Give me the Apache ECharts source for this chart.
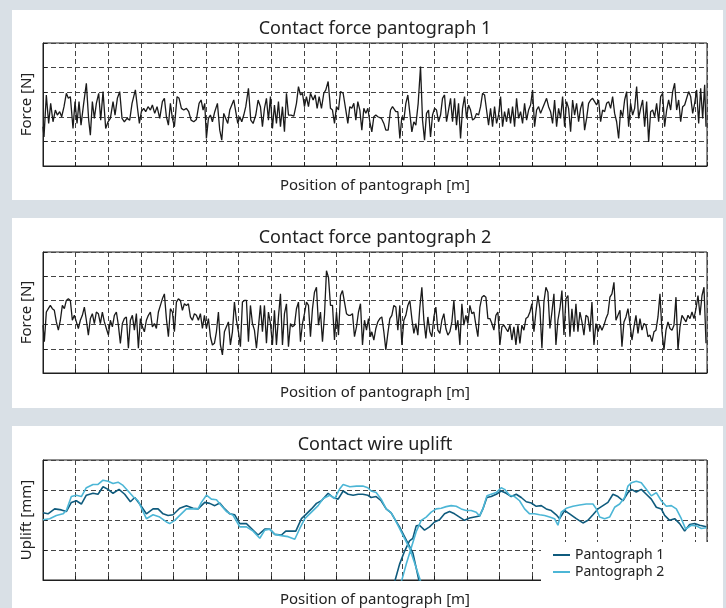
<!DOCTYPE html>
<html>
<head>
<meta charset="utf-8">
<script src="https://cdn.jsdelivr.net/npm/echarts@6/dist/echarts.min.js"></script>
<style>
html,body{margin:0;padding:0;background:#d9e0e6;}
#c{width:726px;height:608px;}
</style>
</head>
<body>
<div id="c"></div>
<script>
// Position [m] along track, value pairs [position, value]
const force1 = [[0,117],[3,87],[10,212],[17,127],[23,187],[30,132],[37,167],[43,152],[50,162],[56,147],[63,177],[70,217],[76,202],[82,207],[90,112],[96,192],[102,127],[108,192],[114,122],[122,187],[130,247],[137,137],[142,92],[148,192],[154,142],[160,187],[167,217],[173,137],[180,222],[188,112],[195,132],[202,142],[210,192],[216,152],[223,202],[230,222],[237,142],[244,132],[252,142],[260,137],[267,187],[277,227],[284,167],[289,127],[295,162],[302,172],[308,162],[315,177],[322,167],[328,182],[335,157],[342,177],[350,142],[358,192],[364,202],[370,147],[376,122],[382,187],[388,142],[394,117],[402,207],[408,202],[415,172],[422,167],[430,172],[437,162],[444,137],[452,132],[460,139],[468,187],[474,197],[480,167],[485,187],[490,82],[496,142],[502,152],[508,132],[515,162],[523,187],[530,107],[536,77],[542,157],[548,142],[554,127],[560,167],[566,182],[572,197],[578,162],[584,127],[590,147],[596,132],[602,152],[608,177],[616,232],[623,137],[630,127],[638,152],[645,197],[652,177],[658,117],[664,172],[670,202],[676,137],[682,207],[688,112],[694,182],[700,127],[706,192],[712,117],[718,177],[724,102],[730,217],[736,152],[744,152],[752,149],[760,187],[766,237],[772,212],[778,217],[784,177],[790,207],[796,177],[802,217],[810,197],[816,212],[822,172],[828,207],[835,172],[842,217],[848,227],[855,252],[862,172],[868,167],[874,127],[880,177],[886,167],[892,222],[900,217],[908,167],[914,127],[920,177],[926,172],[932,187],[938,137],[944,192],[950,167],[956,107],[962,172],[968,157],[974,172],[980,132],[986,102],[992,147],[998,152],[1004,147],[1015,142],[1022,127],[1028,107],[1035,107],[1042,167],[1048,177],[1053,182],[1058,162],[1064,162],[1070,82],[1076,147],[1082,137],[1088,187],[1094,212],[1100,157],[1106,102],[1112,132],[1118,122],[1125,187],[1132,297],[1138,137],[1144,77],[1150,157],[1156,167],[1162,87],[1168,152],[1174,172],[1180,167],[1186,132],[1192,152],[1198,202],[1204,212],[1210,132],[1216,167],[1222,202],[1228,132],[1234,202],[1240,122],[1246,187],[1252,82],[1258,172],[1264,207],[1270,142],[1276,182],[1282,167],[1288,137],[1294,142],[1300,157],[1306,152],[1312,177],[1318,217],[1324,212],[1330,167],[1336,122],[1342,172],[1348,117],[1354,177],[1360,127],[1366,152],[1372,207],[1378,117],[1384,162],[1390,132],[1396,172],[1402,127],[1408,177],[1414,117],[1420,202],[1426,142],[1432,162],[1438,127],[1444,187],[1450,137],[1456,167],[1462,182],[1468,227],[1474,117],[1480,167],[1486,177],[1492,157],[1498,172],[1504,187],[1510,202],[1516,177],[1522,162],[1528,127],[1534,197],[1540,117],[1546,172],[1552,142],[1558,207],[1564,117],[1570,192],[1576,172],[1582,102],[1588,197],[1594,152],[1600,187],[1606,132],[1612,172],[1618,192],[1624,107],[1630,142],[1636,187],[1642,197],[1648,202],[1654,192],[1660,182],[1666,197],[1672,132],[1678,167],[1684,162],[1690,187],[1696,192],[1702,172],[1708,207],[1714,157],[1720,132],[1726,82],[1732,167],[1738,147],[1744,197],[1750,222],[1756,117],[1762,187],[1768,152],[1774,172],[1780,237],[1786,142],[1792,172],[1798,197],[1804,117],[1810,192],[1816,72],[1822,162],[1828,167],[1834,147],[1840,187],[1846,132],[1852,207],[1858,217],[1864,117],[1870,167],[1876,197],[1882,167],[1888,222],[1894,247],[1900,167],[1906,197],[1912,132],[1918,177],[1924,182],[1930,202],[1936,222],[1942,207],[1948,157],[1954,187],[1960,227],[1966,127],[1972,232],[1978,142],[1984,242],[1988,117]];

const force2 = [[0,145],[4,95],[10,185],[16,195],[22,205],[28,195],[34,190],[40,155],[46,130],[52,160],[58,205],[64,195],[70,220],[76,225],[82,220],[88,160],[94,175],[100,155],[106,135],[112,160],[118,175],[124,200],[130,160],[136,115],[142,165],[148,180],[154,150],[160,185],[166,180],[172,150],[178,185],[184,155],[190,135],[196,115],[202,160],[208,140],[214,175],[220,185],[226,145],[232,90],[238,150],[244,165],[250,170],[256,75],[262,160],[268,175],[274,130],[280,180],[286,75],[292,165],[298,140],[304,125],[310,160],[316,175],[322,185],[328,140],[334,150],[340,135],[346,185],[352,205],[358,225],[364,240],[370,165],[376,110],[382,195],[388,185],[394,125],[400,215],[406,225],[412,220],[418,190],[424,210],[430,205],[436,210],[442,170],[448,160],[454,180],[460,175],[466,160],[472,180],[478,135],[484,175],[490,135],[496,165],[502,110],[508,85],[514,90],[520,125],[526,185],[532,85],[538,55],[544,125],[550,140],[556,155],[562,85],[568,125],[574,215],[580,160],[586,125],[592,80],[598,215],[604,220],[610,220],[616,95],[622,205],[628,150],[634,130],[640,75],[646,140],[652,205],[658,125],[664,205],[670,90],[676,185],[682,150],[688,85],[694,190],[700,85],[706,170],[712,240],[718,85],[724,180],[730,210],[736,80],[742,150],[748,140],[754,145],[760,195],[766,215],[772,95],[778,150],[784,180],[790,215],[796,205],[802,110],[808,195],[814,245],[820,260],[826,145],[832,185],[838,95],[844,175],[850,310],[856,290],[862,205],[868,205],[874,100],[880,185],[886,115],[892,235],[898,250],[904,215],[910,180],[916,175],[922,175],[928,180],[934,110],[940,140],[946,185],[952,210],[958,85],[964,160],[970,130],[976,165],[982,110],[986,125],[992,100],[998,135],[1004,155],[1010,165],[1016,170],[1022,125],[1028,70],[1034,120],[1040,165],[1046,175],[1052,205],[1058,200],[1064,130],[1070,205],[1076,85],[1082,160],[1088,175],[1094,205],[1100,220],[1106,165],[1112,120],[1118,150],[1124,115],[1130,200],[1136,260],[1142,160],[1148,105],[1154,170],[1160,125],[1166,110],[1172,170],[1178,200],[1184,130],[1190,120],[1196,160],[1202,180],[1208,135],[1214,115],[1220,125],[1226,155],[1232,220],[1238,130],[1244,160],[1250,85],[1256,210],[1262,145],[1268,175],[1274,150],[1280,205],[1286,180],[1292,185],[1298,145],[1304,110],[1310,200],[1316,230],[1322,235],[1328,230],[1334,165],[1340,165],[1346,150],[1352,130],[1358,175],[1364,185],[1370,85],[1376,140],[1382,145],[1388,135],[1394,125],[1400,145],[1406,100],[1412,140],[1418,85],[1424,145],[1430,90],[1436,145],[1442,130],[1448,165],[1454,170],[1460,185],[1466,210],[1472,125],[1478,185],[1484,235],[1490,195],[1496,75],[1502,215],[1508,260],[1514,245],[1520,135],[1526,185],[1532,240],[1538,85],[1544,160],[1550,195],[1556,250],[1562,115],[1568,225],[1574,235],[1580,110],[1586,195],[1592,125],[1598,210],[1604,125],[1610,185],[1616,155],[1622,115],[1628,175],[1634,170],[1640,125],[1646,215],[1652,85],[1658,150],[1664,125],[1670,145],[1676,130],[1682,145],[1688,165],[1694,180],[1700,230],[1706,240],[1712,275],[1718,160],[1724,175],[1730,190],[1736,80],[1742,155],[1748,170],[1754,195],[1760,150],[1766,100],[1772,140],[1778,175],[1784,120],[1790,165],[1796,130],[1802,150],[1808,145],[1814,110],[1820,115],[1826,95],[1832,125],[1838,130],[1844,170],[1850,240],[1856,125],[1862,70],[1868,130],[1874,155],[1880,135],[1886,130],[1892,145],[1898,230],[1904,70],[1910,140],[1916,175],[1922,165],[1928,155],[1934,175],[1940,165],[1946,185],[1952,165],[1958,195],[1964,235],[1970,175],[1976,235],[1982,260],[1988,90]];

const uplift1 = [[0,206],[15,203],[35,218],[55,215],[70,210],[85,238],[100,243],[115,233],[130,260],[150,266],[165,263],[180,286],[195,278],[210,266],[228,278],[245,263],[262,240],[275,253],[290,233],[310,203],[330,218],[345,218],[360,203],[375,198],[390,200],[410,220],[430,228],[450,220],[465,218],[485,238],[500,235],[515,228],[530,236],[545,218],[560,203],[575,200],[590,173],[610,173],[625,158],[645,138],[665,156],[680,156],[695,140],[715,138],[728,150],[745,150],[758,150],[775,188],[790,203],[805,218],[820,235],[835,243],[855,266],[870,253],[885,248],[900,273],[915,263],[930,260],[945,263],[959,263],[974,260],[984,253],[999,256],[1014,243],[1029,218],[1044,206],[1054,188],[1069,163],[1084,133],[1099,103],[1109,83],[1127,0],[1135,-40],[1044,-40],[1056,0],[1069,48],[1084,88],[1099,120],[1109,128],[1119,166],[1129,168],[1144,153],[1159,163],[1174,178],[1189,185],[1204,203],[1219,210],[1234,203],[1249,193],[1264,183],[1279,190],[1294,193],[1309,196],[1319,218],[1331,253],[1344,256],[1359,263],[1374,273],[1389,266],[1404,256],[1419,263],[1434,253],[1449,240],[1464,236],[1479,226],[1494,228],[1509,218],[1524,213],[1539,200],[1549,188],[1564,213],[1579,203],[1599,188],[1619,175],[1634,183],[1649,200],[1664,218],[1679,228],[1694,238],[1709,263],[1724,256],[1739,243],[1754,268],[1764,278],[1779,270],[1794,278],[1809,263],[1824,248],[1839,223],[1854,218],[1864,198],[1879,183],[1894,188],[1909,173],[1924,150],[1939,170],[1954,173],[1969,168],[1989,163]];

const uplift2 = [[0,185],[20,188],[40,198],[60,203],[70,213],[85,256],[100,260],[115,256],[130,283],[150,293],[165,293],[180,306],[195,303],[210,296],[225,300],[240,290],[255,273],[270,256],[285,243],[310,188],[330,200],[350,193],[370,178],[380,173],[395,183],[410,198],[430,218],[450,218],[465,218],[475,238],[490,260],[505,248],[520,246],[535,228],[550,210],[570,198],[590,163],[610,163],[630,150],[650,128],[665,153],[680,156],[695,140],[715,136],[735,133],[755,125],[770,158],[785,188],[805,208],[825,228],[840,250],[860,260],[875,250],[890,280],[900,293],[920,286],[940,288],[959,288],[974,283],[984,273],[999,268],[1014,248],[1029,218],[1044,206],[1054,188],[1069,158],[1084,128],[1099,98],[1114,53],[1131,0],[1139,-30],[1064,-30],[1076,0],[1089,48],[1104,98],[1119,148],[1134,183],[1149,193],[1164,208],[1179,218],[1194,220],[1209,225],[1224,228],[1239,226],[1254,218],[1269,213],[1284,213],[1299,208],[1309,196],[1319,218],[1331,258],[1344,263],[1359,268],[1374,283],[1384,278],[1399,260],[1414,256],[1429,243],[1444,218],[1459,203],[1474,203],[1489,200],[1504,198],[1519,193],[1534,188],[1544,168],[1554,208],[1569,220],[1589,226],[1609,230],[1629,233],[1649,233],[1659,218],[1669,193],[1684,188],[1699,193],[1714,223],[1729,233],[1744,253],[1754,288],[1764,298],[1779,303],[1794,298],[1809,278],[1824,258],[1839,268],[1854,243],[1869,226],[1884,228],[1899,218],[1914,188],[1927,156],[1944,168],[1959,166],[1974,158],[1989,160]];

const titles = ['Contact force pantograph 1', 'Contact force pantograph 2', 'Contact wire uplift'];
const yNames = ['Force [N]', 'Force [N]', 'Uplift [mm]'];
const xName = 'Position of pantograph [m]';
const legendNames = ['Pantograph 1', 'Pantograph 2'];

const FONT = '"Noto Sans", "Open Sans", sans-serif';
const TXT = '#222';
const xMax = 1991, xStep = 97.8;
const yAxes = [{max: 367, step: 73.4}, {max: 367, step: 73.4}, {max: 368, step: 92}];
const gridTops = [43, 252, 460];
const gridHeights = [123, 121, 123];
const titleTops = [20, 229, 436];

const grid = gridTops.map((t, i) => ({
  left: 43, top: t, width: 664, height: gridHeights[i],
  show: true, borderColor: '#1f1f1f', borderWidth: 1, backgroundColor: 'transparent'
}));

const split = {show: true, lineStyle: {color: '#444', width: 1, type: [5, 3]}};
const xAxis = grid.map((g, i) => ({
  type: 'value', gridIndex: i, min: 0, max: xMax, interval: xStep,
  name: xName, nameLocation: 'middle', nameGap: 12,
  nameTextStyle: {color: TXT, fontSize: 15, fontFamily: FONT},
  axisLine: {show: true, lineStyle: {color: '#1f1f1f', width: 1}},
  axisTick: {show: true, inside: true, length: 4, lineStyle: {color: '#1f1f1f'}},
  axisLabel: {show: false},
  splitLine: split
}));
const yAxis = grid.map((g, i) => ({
  type: 'value', gridIndex: i, min: 0, max: yAxes[i].max, interval: yAxes[i].step,
  name: yNames[i], nameLocation: 'middle', nameGap: 9, nameRotate: 90,
  nameTextStyle: {color: TXT, fontSize: 15, fontFamily: FONT},
  axisLine: {show: true, lineStyle: {color: '#1f1f1f', width: 1}},
  axisTick: {show: true, inside: true, length: 4, lineStyle: {color: '#1f1f1f'}},
  axisLabel: {show: false},
  splitLine: split
}));

const title = titles.map((t, i) => ({
  text: t, left: 375, textAlign: 'center', top: titleTops[i], padding: 0,
  textStyle: {color: TXT, fontSize: 18, fontWeight: 'normal', fontFamily: FONT}
}));

const lineBase = {type: 'line', showSymbol: false, symbol: 'none', smooth: false, clip: true, animation: false};
const series = [
  Object.assign({}, lineBase, {name: 'force1', xAxisIndex: 0, yAxisIndex: 0, data: force1, lineStyle: {color: '#1a1a1a', width: 1.3}, itemStyle: {color: '#1a1a1a'}}),
  Object.assign({}, lineBase, {name: 'force2', xAxisIndex: 1, yAxisIndex: 1, data: force2, lineStyle: {color: '#1a1a1a', width: 1.3}, itemStyle: {color: '#1a1a1a'}}),
  Object.assign({}, lineBase, {name: legendNames[0], xAxisIndex: 2, yAxisIndex: 2, data: uplift1, lineStyle: {color: '#0f5b7d', width: 1.6}, itemStyle: {color: '#0f5b7d'}}),
  Object.assign({}, lineBase, {name: legendNames[1], xAxisIndex: 2, yAxisIndex: 2, data: uplift2, lineStyle: {color: '#4cb6d6', width: 1.6}, itemStyle: {color: '#4cb6d6'}})
];

const panels = [[12, 10, 711, 190], [12, 218, 711, 190], [12, 426, 711, 200]];
const graphic = panels.map(p => ({
  type: 'rect', shape: {x: p[0], y: p[1], width: p[2], height: p[3]},
  style: {fill: '#ffffff'}, z: -100, silent: true
}));

const chart = echarts.init(document.getElementById('c'), null, {renderer: 'canvas'});
chart.setOption({
  backgroundColor: '#d9e0e6',
  animation: false,
  graphic: graphic,
  title: title,
  grid: grid,
  xAxis: xAxis,
  yAxis: yAxis,
  legend: {
    data: legendNames, orient: 'vertical', left: 541, top: 542,
    backgroundColor: '#ffffff', padding: [5, 46, 5, 12], itemGap: 1,
    icon: 'rect', itemWidth: 17, itemHeight: 2,
    textStyle: {color: TXT, fontSize: 14, fontFamily: FONT, lineHeight: 16},
    selectedMode: false
  },
  series: series
});
</script>
</body>
</html>
